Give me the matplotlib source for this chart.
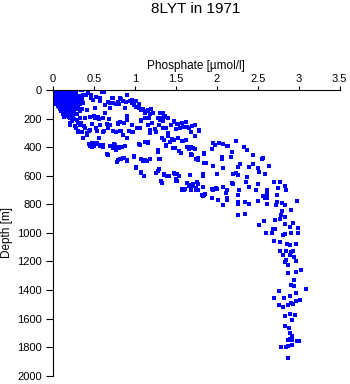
import matplotlib
matplotlib.use("Agg")
import matplotlib.pyplot as plt

plt.rcParams['font.family'] = ['Liberation Sans', 'DejaVu Sans']

# (phosphate [umol/l], depth [m]), grouped by depth band
surface = [
    (0.01, 0), (0.03, 5), (0.05, 2), (0.08, 8), (0.10, 3), (0.12, 10), (0.15, 5), (0.18, 12),
    (0.20, 4), (0.22, 15), (0.25, 8), (0.02, 20), (0.04, 25), (0.07, 30), (0.09, 22), (0.11, 35),
    (0.14, 28), (0.17, 40), (0.19, 32), (0.23, 38), (0.27, 30), (0.01, 45), (0.03, 50), (0.06, 55),
    (0.08, 48), (0.10, 60), (0.13, 52), (0.16, 65), (0.18, 58), (0.21, 70), (0.24, 62), (0.28, 55),
    (0.02, 75), (0.05, 80), (0.07, 72), (0.09, 85), (0.12, 78), (0.15, 90), (0.17, 82), (0.20, 95),
    (0.22, 88), (0.26, 100), (0.30, 80), (0.04, 100), (0.06, 110), (0.09, 105), (0.11, 120),
    (0.14, 112), (0.16, 125), (0.19, 118), (0.23, 130), (0.27, 120), (0.31, 110), (0.08, 135),
    (0.10, 145), (0.13, 140), (0.15, 155), (0.18, 150), (0.21, 160), (0.24, 148), (0.29, 165),
    (0.12, 170), (0.16, 178), (0.20, 175), (0.33, 150), (0.00, 15), (0.00, 60), (0.02, 90),
    (0.06, 5), (0.13, 0), (0.17, 18), (0.24, 20), (0.28, 12), (0.32, 40), (0.36, 60), (0.26, 45),
    (0.11, 95), (0.19, 105), (0.25, 170), (0.35, 130),
    (0.04, 10), (0.07, 15), (0.10, 18), (0.14, 14), (0.16, 22), (0.19, 25), (0.21, 20),
    (0.02, 35), (0.05, 38), (0.08, 40), (0.12, 45), (0.15, 42), (0.20, 48), (0.23, 52),
    (0.03, 62), (0.06, 68), (0.09, 65), (0.12, 66), (0.14, 75), (0.19, 78), (0.24, 80),
    (0.04, 88), (0.07, 95), (0.10, 92), (0.13, 100), (0.17, 98), (0.21, 108), (0.25, 112),
    (0.07, 120), (0.10, 128), (0.13, 125), (0.17, 135), (0.20, 138), (0.26, 140), (0.28, 95),
    (0.29, 70), (0.31, 60), (0.33, 95), (0.30, 135), (0.22, 190), (0.26, 200), (0.14, 190),
]

upper = [
    (0.34, 0), (0.40, 35), (0.47, 33), (0.52, 47), (0.58, 54), (0.62, 12), (0.70, 89), (0.72, 54),
    (0.77, 96), (0.83, 61), (0.89, 84), (0.94, 77), (0.97, 70), (1.02, 77), (1.05, 100), (1.09, 135),
    (1.13, 159), (1.16, 140), (1.20, 131), (1.22, 159), (1.34, 159), (1.37, 182), (1.40, 194),
    (1.48, 217), (1.52, 240), (1.57, 229), (1.62, 224), (1.66, 264), (1.70, 252), (1.74, 247),
    (1.78, 280), (0.35, 0), (0.37, 35), (0.43, 23), (0.33, 70), (0.37, 88), (0.41, 140), (0.47, 54),
    (0.49, 70), (0.51, 129), (0.53, 47), (0.57, 77), (0.60, 16), (0.63, 105), (0.67, 82),
    (0.70, 129), (0.73, 93), (0.73, 58), (0.79, 82), (0.81, 100), (0.82, 58), (0.86, 77),
    (0.88, 129), (0.90, 35), (0.96, 70), (0.97, 93), (0.99, 105), (1.02, 117), (1.05, 123),
    (1.07, 140), (1.10, 135), (1.12, 164), (1.16, 147), (1.17, 199), (1.12, 199), (1.28, 194),
    (1.31, 211), (1.33, 199), (1.36, 187), (1.31, 164),
]

middle = [
    (0.17, 182), (0.21, 229), (0.23, 217), (0.27, 252), (0.30, 287), (0.34, 229), (0.38, 252),
    (0.42, 299), (0.44, 287), (0.48, 240), (0.50, 182), (0.54, 287), (0.56, 205), (0.62, 287),
    (0.64, 159), (0.66, 240), (0.68, 205), (0.73, 287), (0.79, 240), (0.83, 287), (0.87, 229),
    (0.91, 182), (0.93, 287), (0.97, 294), (1.03, 264), (1.07, 217), (1.13, 147), (1.18, 170),
    (1.21, 229), (1.24, 275), (1.26, 294), (1.34, 217), (1.38, 264), (1.40, 322), (1.45, 345),
    (1.50, 275), (1.54, 427), (1.59, 357), (1.63, 350), (1.66, 415), (1.69, 450), (1.71, 404),
    (1.75, 485), (0.19, 187), (0.21, 199), (0.25, 199), (0.29, 210), (0.31, 234), (0.33, 199),
    (0.39, 199), (0.45, 187), (0.51, 199), (0.55, 187), (0.61, 199), (0.70, 246), (0.79, 234),
    (0.82, 222), (0.90, 211), (0.56, 339), (0.54, 374), (0.21, 246), (0.28, 269), (0.33, 246),
    (0.31, 292), (0.35, 292), (0.39, 269), (0.41, 316), (0.45, 281), (0.37, 339), (0.53, 269),
    (0.57, 246), (0.61, 292), (0.67, 269), (0.77, 292), (0.82, 288), (0.86, 316), (0.90, 339),
    (1.07, 211), (1.06, 269), (0.98, 292), (0.96, 246), (1.16, 246), (1.18, 281), (1.18, 304),
    (1.29, 246), (1.34, 264), (1.33, 334), (1.36, 351), (1.40, 304), (1.44, 246), (1.48, 222),
    (1.53, 240), (1.55, 269), (1.59, 257), (1.64, 257), (1.69, 292), (1.73, 321), (1.78, 288),
    (1.48, 351), (1.53, 339), (1.12, 363), (1.38, 386),
]

lower = [
    (0.44, 380), (0.48, 369), (0.50, 392), (0.53, 380), (0.58, 392), (0.61, 385), (0.66, 450),
    (0.70, 392), (0.73, 404), (0.77, 415), (0.81, 404), (0.79, 492), (0.83, 485), (0.87, 474),
    (0.91, 492), (0.99, 462), (1.01, 537), (1.05, 380), (1.07, 485), (1.13, 490), (1.16, 364),
    (1.18, 485), (1.07, 574), (1.11, 602), (1.28, 420), (1.28, 567), (1.30, 485), (1.32, 637),
    (1.36, 590), (1.38, 392), (1.40, 602), (1.47, 404), (1.48, 579), (1.50, 625), (1.54, 602),
    (1.58, 690), (1.61, 695), (1.66, 667), (1.71, 660), (1.75, 684), (0.45, 393), (0.49, 374),
    (0.53, 370), (0.57, 386), (0.61, 398), (0.48, 402), (0.74, 379), (0.76, 385), (0.80, 398),
    (0.84, 400), (0.88, 393), (0.77, 421), (0.67, 456), (0.82, 486), (0.78, 503), (0.86, 479),
    (0.91, 496), (1.06, 386), (1.16, 370), (1.38, 393), (1.43, 363), (1.49, 409), (1.57, 356),
    (1.64, 398), (1.67, 400), (1.69, 456), (1.56, 440), (1.28, 433), (0.99, 468), (1.10, 496),
    (1.12, 496), (1.15, 496), (1.31, 486), (1.77, 491), (1.84, 449), (1.87, 514), (1.01, 549),
    (1.08, 580), (1.11, 604), (1.26, 578), (1.30, 556), (1.35, 592), (1.39, 604), (1.42, 604),
    (1.49, 585), (1.52, 585), (1.50, 636), (1.67, 596), (1.33, 650), (1.58, 697), (1.60, 700),
    (1.66, 674), (1.70, 670), (1.77, 655), (1.77, 697), (1.83, 604), (1.83, 737), (1.86, 725),
]

slope = [
    (1.69, 402), (1.73, 416), (1.70, 456), (1.77, 479), (1.85, 444), (1.85, 514), (1.96, 370),
    (1.98, 386), (2.03, 374), (2.08, 379), (2.12, 393), (2.14, 393), (2.23, 356), (2.33, 402),
    (2.37, 421), (2.44, 456), (2.55, 486), (2.56, 475), (1.94, 416), (2.06, 468), (2.07, 484),
    (2.18, 472), (2.26, 538), (2.29, 521), (2.19, 433), (1.95, 533), (2.00, 585), (2.08, 549),
    (1.83, 587), (2.39, 542), (2.44, 519), (2.51, 545), (2.52, 573), (2.64, 533), (2.59, 585),
    (2.20, 585), (2.24, 580), (2.26, 596), (2.37, 608), (2.39, 678), (2.36, 643), (2.50, 660),
    (2.48, 702), (2.61, 707), (2.62, 725), (2.59, 756), (2.56, 744), (2.19, 650), (2.27, 702),
    (2.13, 702), (2.11, 720), (2.00, 690), (1.94, 690), (1.82, 737), (1.71, 667), (1.69, 697),
    (1.64, 650), (1.94, 755), (2.13, 755), (1.33, 648), (1.51, 636), (1.67, 672), (1.76, 643),
    (1.75, 697), (1.83, 678), (1.85, 732), (1.83, 742), (1.95, 702), (1.99, 683), (2.08, 678),
    (2.13, 697), (2.20, 655), (2.02, 767), (2.12, 767), (2.08, 802), (2.26, 732), (2.27, 702),
    (2.26, 784), (2.26, 800), (2.26, 877), (2.34, 865), (2.34, 784), (2.40, 800), (2.39, 678),
    (2.48, 702), (2.50, 660), (2.50, 777), (2.61, 721), (2.61, 702), (2.61, 758), (2.61, 800),
]

bend = [
    (2.58, 917), (2.52, 947), (2.60, 1001), (2.68, 1001), (2.69, 971), (2.71, 971), (2.70, 1060),
    (2.71, 907), (2.77, 905), (2.79, 872), (2.80, 849), (2.83, 889), (2.84, 936), (2.89, 959),
    (2.91, 837), (2.93, 931), (2.98, 777), (2.99, 964), (2.99, 1001), (2.91, 1001), (2.81, 1018),
    (2.83, 1010), (2.73, 807), (2.74, 784), (2.80, 793), (2.84, 807), (2.74, 735), (2.75, 683),
    (2.84, 674), (2.70, 643), (2.77, 643), (2.85, 702), (2.77, 1067), (2.86, 1076), (2.89, 1088),
    (2.97, 1076),
]

deep = [
    (2.77, 1128), (2.81, 1158), (2.85, 1128), (2.89, 1158), (2.91, 1135), (2.93, 1128),
    (2.95, 1170), (2.97, 1200), (2.85, 1191), (2.83, 1205), (2.87, 1228), (2.97, 1275),
    (3.03, 1258), (2.87, 1284), (2.95, 1329), (2.91, 1362), (2.94, 1374), (3.09, 1392),
    (2.97, 1420), (2.89, 1444), (2.82, 1458), (2.70, 1455), (2.76, 1406), (2.76, 1504),
    (2.81, 1521), (2.87, 1502), (2.91, 1488), (2.93, 1495), (2.97, 1479), (3.02, 1469),
    (2.90, 1567), (2.96, 1574), (2.92, 1607), (2.84, 1581), (2.84, 1649), (2.88, 1665),
    (2.90, 1700), (2.92, 1724), (2.87, 1747), (2.90, 1740), (2.92, 1751), (2.98, 1760),
    (3.00, 1756), (2.92, 1784), (2.78, 1797), (2.85, 1801), (2.87, 1790), (2.87, 1876),
]

x_ticks = [0, 0.5, 1, 1.5, 2, 2.5, 3, 3.5]
x_tick_labels = ['0', '0.5', '1', '1.5', '2', '2.5', '3', '3.5']
y_ticks = list(range(0, 2001, 200))

points = surface + upper + middle + lower + slope + bend + deep
phosphate = [p for p, d in points]
depth = [d for p, d in points]

fig = plt.figure(figsize=(3.5, 3.84), dpi=100)
ax = fig.add_axes([53 / 350, 1 - 375.7 / 384, 286.5 / 350, 285.7 / 384])

ax.plot(phosphate, depth, 's', color='#0000ff', ms=2.3, mew=0)

ax.set_xlim(0, 3.5)
ax.set_ylim(2000, 0)
ax.set_xticks(x_ticks)
ax.set_xticklabels(x_tick_labels)
ax.set_yticks(y_ticks)

ax.xaxis.tick_top()
ax.xaxis.set_label_position('top')
ax.spines['bottom'].set_visible(False)
ax.spines['right'].set_visible(False)
ax.tick_params(axis='x', length=3, pad=1, labelsize=8)
ax.tick_params(axis='y', length=5, pad=3, labelsize=8)

ax.set_xlabel('Phosphate [µmol/l]', fontsize=8.5, labelpad=4)
ax.set_ylabel('Depth [m]', fontsize=8.5, labelpad=3)

fig.text(196 / 350, 1 - 2 / 384, '8LYT in 1971', ha='center', va='top', fontsize=11)

fig.savefig('out.png', dpi=100)
